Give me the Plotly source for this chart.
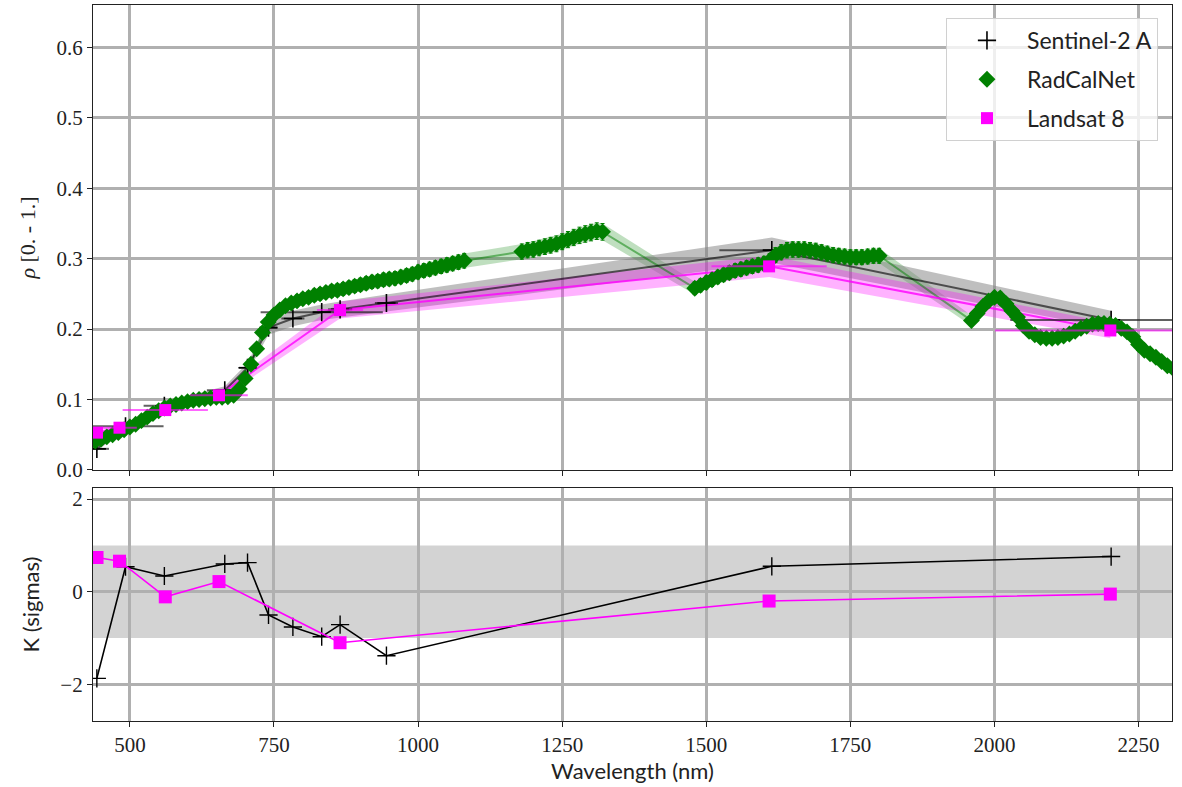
import plotly.graph_objects as go

# ---------------- data ----------------
# Sentinel-2 A
s2_wl = [442.7, 492.4, 559.8, 664.6, 704.1, 740.5, 782.8, 832.8, 864.7, 945.1, 1613.7, 2202.4]
s2_bw = [21, 66, 36, 31, 15, 15, 20, 106, 21, 20, 91, 175]
s2_rho = [0.030, 0.062, 0.091, 0.113, 0.145, 0.202, 0.215, 0.224, 0.228, 0.237, 0.312, 0.213]
s2_unc = [0.003, 0.004, 0.005, 0.006, 0.007, 0.010, 0.011, 0.011, 0.011, 0.012, 0.018, 0.013]
s2_k = [-1.87, 0.54, 0.34, 0.60, 0.63, -0.50, -0.76, -0.97, -0.71, -1.38, 0.55, 0.76]

# Landsat 8
l8_wl = [443.0, 482.0, 561.4, 654.6, 864.6, 1609.0, 2201.0]
l8_bw = [8, 30, 74, 50, 40, 100, 200]
l8_rho = [0.053, 0.060, 0.085, 0.106, 0.227, 0.289, 0.198]
l8_unc = [0.004, 0.004, 0.005, 0.006, 0.012, 0.015, 0.011]
l8_k = [0.74, 0.66, -0.11, 0.22, -1.10, -0.20, -0.05]

# RadCalNet
rcn_wl = [400, 410, 420, 430, 440, 450, 460, 470, 480, 490, 500, 510, 520, 530, 540, 550,
          560, 570, 580, 590, 600, 610, 620, 630, 640, 650, 660, 670, 680, 690, 700, 710,
          720, 730, 740, 750, 760, 770, 780, 790, 800, 810, 820, 830, 840, 850, 860, 870,
          880, 890, 900, 910, 920, 930, 940, 950, 960, 970, 980, 990, 1000, 1010, 1020,
          1030, 1040, 1050, 1060, 1070, 1080,
          1180, 1190, 1200, 1210, 1220, 1230, 1240, 1250, 1260, 1270, 1280, 1290, 1300,
          1310, 1320,
          1480, 1490, 1500, 1510, 1520, 1530, 1540, 1550, 1560, 1570, 1580, 1590, 1600,
          1610, 1620, 1630, 1640, 1650, 1660, 1670, 1680, 1690, 1700, 1710, 1720, 1730,
          1740, 1750, 1760, 1770, 1780, 1790, 1800,
          1960, 1970, 1980, 1990, 2000, 2010, 2020, 2030, 2040, 2050, 2060, 2070, 2080,
          2090, 2100, 2110, 2120, 2130, 2140, 2150, 2160, 2170, 2180, 2190, 2200, 2210,
          2220, 2230, 2240, 2250, 2260, 2270, 2280, 2290, 2300, 2310]
rcn_rho = [0.030, 0.033, 0.035, 0.038, 0.041, 0.044, 0.047, 0.050, 0.053, 0.057, 0.061, 0.065,
           0.070, 0.075, 0.080, 0.084, 0.088, 0.091, 0.093, 0.095, 0.097, 0.099, 0.100, 0.101,
           0.102, 0.103, 0.103, 0.104, 0.106, 0.115, 0.130, 0.150, 0.172, 0.195, 0.210, 0.220,
           0.227, 0.233, 0.237, 0.240, 0.243, 0.245, 0.248, 0.250, 0.252, 0.254, 0.255, 0.257,
           0.259, 0.261, 0.263, 0.265, 0.267, 0.268, 0.270, 0.271, 0.272, 0.274, 0.276, 0.278,
           0.281, 0.283, 0.285, 0.287, 0.289, 0.291, 0.293, 0.295, 0.297,
           0.310, 0.312, 0.313, 0.315, 0.317, 0.319, 0.321, 0.324, 0.327, 0.330, 0.333, 0.335,
           0.337, 0.339, 0.338,
           0.258, 0.262, 0.266, 0.270, 0.274, 0.277, 0.280, 0.283, 0.285, 0.287, 0.289, 0.291,
           0.293, 0.297, 0.305, 0.309, 0.312, 0.313, 0.313, 0.313, 0.312, 0.311, 0.309, 0.307,
           0.305, 0.304, 0.303, 0.302, 0.302, 0.302, 0.303, 0.304, 0.304,
           0.212, 0.222, 0.232, 0.240, 0.245, 0.244, 0.236, 0.226, 0.217, 0.205, 0.197, 0.192,
           0.188, 0.187, 0.187, 0.188, 0.190, 0.193, 0.197, 0.201, 0.204, 0.207, 0.208, 0.208,
           0.207, 0.205, 0.201, 0.196, 0.189, 0.178, 0.170, 0.165, 0.160, 0.154, 0.148, 0.144]
rcn_rel_unc = 0.035

k_band = [-1.0, 1.0]

x_ticks = [500, 750, 1000, 1250, 1500, 1750, 2000, 2250]
rho_ticks = [0.0, 0.1, 0.2, 0.3, 0.4, 0.5, 0.6]
rho_tick_text = ["0.0", "0.1", "0.2", "0.3", "0.4", "0.5", "0.6"]
k_ticks = [-2, 0, 2]

# ---------------- styles ----------------
SERIF = "Liberation Serif"
SANS = "Lato"
GRID = "#b0b0b0"


def band(x, y, u):
    up = [a + b for a, b in zip(y, u)]
    lo = [a - b for a, b in zip(y, u)]
    return list(x) + list(x[::-1]), up + lo[::-1]


rcn_unc = [v * rcn_rel_unc for v in rcn_rho]

fig = go.Figure()

# uncertainty bands (top panel)
bx, by = band(rcn_wl, rcn_rho, rcn_unc)
fig.add_trace(go.Scatter(x=bx, y=by, fill="toself", fillcolor="rgba(0,128,0,0.25)",
                         line=dict(width=0), mode="lines", hoverinfo="skip",
                         showlegend=False, xaxis="x", yaxis="y"))
bx, by = band(s2_wl, s2_rho, s2_unc)
fig.add_trace(go.Scatter(x=bx, y=by, fill="toself", fillcolor="rgba(128,128,128,0.5)",
                         line=dict(width=0), mode="lines", hoverinfo="skip",
                         showlegend=False, xaxis="x", yaxis="y"))
bx, by = band(l8_wl, l8_rho, l8_unc)
fig.add_trace(go.Scatter(x=bx, y=by, fill="toself", fillcolor="rgba(255,0,255,0.3)",
                         line=dict(width=0), mode="lines", hoverinfo="skip",
                         showlegend=False, xaxis="x", yaxis="y"))

# lines (top panel)
fig.add_trace(go.Scatter(x=rcn_wl, y=rcn_rho, mode="lines",
                         line=dict(color="rgba(0,128,0,0.5)", width=2),
                         showlegend=False, xaxis="x", yaxis="y"))
fig.add_trace(go.Scatter(x=s2_wl, y=s2_rho, mode="lines",
                         line=dict(color="rgba(0,0,0,0.6)", width=2),
                         showlegend=False, xaxis="x", yaxis="y"))
fig.add_trace(go.Scatter(x=l8_wl, y=l8_rho, mode="lines",
                         line=dict(color="rgba(255,0,255,0.8)", width=2),
                         showlegend=False, xaxis="x", yaxis="y"))

# markers (top panel) with legend
fig.add_trace(go.Scatter(x=s2_wl, y=s2_rho, mode="markers", name="Sentinel-2 A",
                         marker=dict(symbol="cross-thin", size=13,
                                     line=dict(color="black", width=1.6)),
                         error_x=dict(type="data", array=s2_bw, color="rgba(30,30,30,0.7)",
                                      thickness=2, width=0),
                         legendgroup="s2", xaxis="x", yaxis="y"))
fig.add_trace(go.Scatter(x=rcn_wl, y=rcn_rho, mode="markers", name="RadCalNet",
                         marker=dict(symbol="diamond", size=13, color="#008000"),
                         error_y=dict(type="data", array=rcn_unc, color="#008000",
                                      thickness=1, width=2),
                         legendgroup="rcn", xaxis="x", yaxis="y"))
fig.add_trace(go.Scatter(x=l8_wl, y=l8_rho, mode="markers", name="Landsat 8",
                         marker=dict(symbol="square", size=12, color="#ff00ff"),
                         error_x=dict(type="data", array=l8_bw, color="rgba(255,0,255,0.6)",
                                      thickness=2, width=0),
                         legendgroup="l8", xaxis="x", yaxis="y"))

# bottom panel
fig.add_trace(go.Scatter(x=s2_wl, y=s2_k, mode="lines+markers",
                         line=dict(color="black", width=1.6),
                         marker=dict(symbol="cross-thin", size=13,
                                     line=dict(color="black", width=1.4)),
                         showlegend=False, xaxis="x2", yaxis="y2"))
fig.add_trace(go.Scatter(x=l8_wl, y=l8_k, mode="lines+markers",
                         line=dict(color="#ff00ff", width=1.6),
                         marker=dict(symbol="square", size=13, color="#ff00ff"),
                         showlegend=False, xaxis="x2", yaxis="y2"))

fig.add_shape(type="rect", xref="x2 domain", yref="y2", x0=0, x1=1,
              y0=k_band[0], y1=k_band[1], fillcolor="#d3d3d3",
              line=dict(width=0), layer="below")

x_range = [436, 2308]
axis_common = dict(showgrid=True, gridcolor=GRID, gridwidth=3, showline=True,
                   linecolor="#222", linewidth=1.2, mirror=True, ticks="outside",
                   ticklen=5, tickcolor="#222", zeroline=False, automargin=False,
                   tickfont=dict(family=SERIF, size=21, color="#222"))

fig.update_layout(
    width=1182, height=787,
    margin=dict(l=93, r=10, t=5, b=66),
    paper_bgcolor="white", plot_bgcolor="white",
    xaxis=dict(domain=[0, 1], anchor="y", range=x_range, tickvals=x_ticks,
               showticklabels=False, matches="x2", **axis_common),
    yaxis=dict(domain=[0.3506, 1], anchor="x", range=[0, 0.66], tickvals=rho_ticks,
               ticktext=rho_tick_text,
               title=dict(text="<i>ρ</i> [0. - 1.]", font=dict(family=SERIF, size=22, color="#222"),
                          standoff=14),
               **axis_common),
    xaxis2=dict(domain=[0, 1], anchor="y2", range=x_range, tickvals=x_ticks,
                title=dict(text="Wavelength (nm)", font=dict(family=SANS, size=22, color="#222"),
                           standoff=4),
                **axis_common),
    yaxis2=dict(domain=[0, 0.3254], anchor="x2", range=[-2.79, 2.24], tickvals=k_ticks,
                title=dict(text="K (sigmas)", font=dict(family=SANS, size=22, color="#222"),
                           standoff=14),
                **axis_common),
    legend=dict(x=0.987, y=0.982, xanchor="right", yanchor="top",
                bgcolor="rgba(255,255,255,0.8)", bordercolor="#d0d0d0", borderwidth=1,
                font=dict(family=SANS, size=23, color="#222"),
                tracegroupgap=6, itemwidth=70),
    showlegend=True,
)

fig.write_html("out.html", config={"displayModeBar": False},
               post_script="document.body.style.margin='0';")
